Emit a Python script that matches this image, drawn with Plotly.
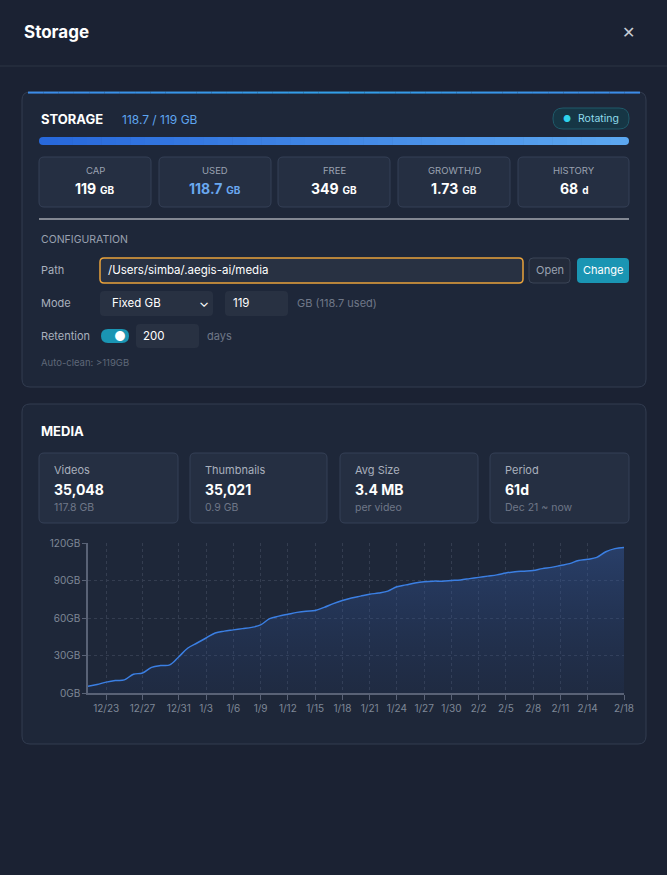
import plotly.graph_objects as go
import pandas as pd

W, H = 667, 875
start_date = "2024-12-21"
used_gb = [5.3, 6.8, 8.7, 10.0, 10.5, 15.0, 16.0, 20.5, 22.0, 22.5,
           29.0, 36.0, 40.0, 44.0, 48.0, 49.5, 50.5, 51.5, 52.5, 54.5,
           59.5, 61.5, 63.0, 64.5, 65.5, 66.0, 68.5, 71.5, 74.0, 76.0,
           77.5, 79.0, 80.0, 81.5, 85.0, 86.5, 88.0, 89.0, 89.5, 89.5,
           90.0, 90.5, 91.5, 92.5, 93.5, 94.5, 96.0, 97.0, 97.5, 98.0,
           99.5, 100.5, 102.0, 103.5, 106.0, 107.0, 108.5, 113.0, 115.5, 116.5]
dates = pd.date_range(start_date, periods=len(used_gb), freq="D")
tick_labels = ["12/23", "12/27", "12/31", "1/3", "1/6", "1/9", "1/12", "1/15", "1/18",
               "1/21", "1/24", "1/27", "1/30", "2/2", "2/5", "2/8", "2/11", "2/14", "2/18"]
tick_dates = [pd.Timestamp(("2024-" if l.startswith("12") else "2025-") + l.replace("/", "-")) for l in tick_labels]
y_ticks = [0, 30, 60, 90, 120]
y_labels = ["0GB", "30GB", "60GB", "90GB", "120GB"]

storage_stats = [("CAP", "119", "GB", "#ffffff"), ("USED", "118.7", "GB", "#6aa8f0"),
                 ("FREE", "349", "GB", "#ffffff"), ("GROWTH/D", "1.73", "GB", "#ffffff"),
                 ("HISTORY", "68", "d", "#ffffff")]
media_stats = [("Videos", "35,048", "117.8 GB"), ("Thumbnails", "35,021", "0.9 GB"),
               ("Avg Size", "3.4 MB", "per video"), ("Period", "61d", "Dec 21 ~ now")]

FONT = "Inter, Roboto, sans-serif"
shapes, ann = [], []

def px(x): return x / W
def py(y): return 1 - y / H

def rrect(x0, y0, x1, y1, r, fill, line=None, lw=1):
    p = (f"M {px(x0+r)},{py(y0)} L {px(x1-r)},{py(y0)} Q {px(x1)},{py(y0)} {px(x1)},{py(y0+r)} "
         f"L {px(x1)},{py(y1-r)} Q {px(x1)},{py(y1)} {px(x1-r)},{py(y1)} L {px(x0+r)},{py(y1)} "
         f"Q {px(x0)},{py(y1)} {px(x0)},{py(y1-r)} L {px(x0)},{py(y0+r)} Q {px(x0)},{py(y0)} {px(x0+r)},{py(y0)} Z")
    shapes.append(dict(type="path", path=p, xref="paper", yref="paper", fillcolor=fill,
                       line=dict(color=line or "rgba(0,0,0,0)", width=lw if line else 0), layer="below"))

def rect(x0, y0, x1, y1, fill):
    shapes.append(dict(type="rect", x0=px(x0), x1=px(x1), y0=py(y1), y1=py(y0),
                       xref="paper", yref="paper", fillcolor=fill, line=dict(width=0), layer="below"))

def text(x, y, s, size=12, color="#ffffff", anchor="left", bold=False):
    if bold: s = f"<b>{s}</b>"
    ann.append(dict(x=px(x), y=py(y), xref="paper", yref="paper", text=s, showarrow=False,
                    xanchor=anchor, yanchor="middle", font=dict(size=size, color=color, family=FONT)))

def line(x0, y0, x1, y1, color, w=1):
    shapes.append(dict(type="line", x0=px(x0), y0=py(y0), x1=px(x1), y1=py(y1), xref="paper", yref="paper",
                       line=dict(color=color, width=w), layer="below"))

def grad(t):
    return f"rgb({int(40+52*t)},{int(105+62*t)},{int(220+20*t)})"

rect(0, 0, W, H, "#1b2233")
text(22, 32, "Storage", 17, "#ffffff", bold=True)
text(628, 32, "✕", 16, "#c8ccd4", "center")
line(0, 66, W, 66, "#2c3445")

# storage panel
rrect(22, 92, 646, 387, 8, "#1e2739", "#323c50")
for i in range(40):
    t = abs(i - 19.5) / 19.5
    line(28 + i * 612 / 40, 92.6, 28 + (i + 1) * 612 / 40, 92.6,
         f"rgb({int(50+10*t)},{int(160-20*t)},{int(232)})", 2)
text(39, 119, "STORAGE", 13, "#ffffff", bold=True)
text(120, 119, "118.7 / 119 GB", 12, "#5ea6f0")
rrect(553, 108, 629, 129, 10, "#163645", "#1f5a6a")
text(567, 118.5, "●", 9, "#2fd3ec", "center")
text(576, 118.5, "Rotating", 10.5, "#8fdcec")
rrect(39, 137, 49, 145, 4, grad(0))
rrect(619, 137, 629, 145, 4, grad(1))
n = 40
for i in range(n):
    x0 = 43 + i * 582 / n
    rect(x0, 137, x0 + 582 / n + 0.6, 145, grad(i / (n - 1)))
cards = [(39, 151), (159, 271), (278, 390), (398, 510), (518, 629)]
for (x0, x1), (lab, val, unit, col) in zip(cards, storage_stats):
    rrect(x0, 157, x1, 207, 5, "#252f42", "#354056")
    cx = (x0 + x1) / 2
    text(cx, 171, lab, 9.5, "#9aa2b1", "center")
    text(cx, 189, f"<b>{val}</b> <span style='font-size:10px'><b>{unit}</b></span>", 14, col, "center")
line(39, 219, 629, 219, "#e6e8ec")
text(39, 240, "CONFIGURATION", 10.5, "#9aa2b1")
text(39, 270, "Path", 11, "#a9b0bd")
rrect(100, 258, 523, 283, 4, "#283142", "#e9a23b", 1.5)
text(106, 270, "/Users/simba/.aegis-ai/media", 11.5, "#ffffff")
rrect(529, 258, 570, 283, 4, "#232b3b", "#3a4456")
text(549.5, 270, "Open", 11, "#9aa2b1", "center")
rrect(577, 258, 629, 283, 4, "#1a95b3")
text(603, 270, "Change", 11, "#ffffff", "center")
text(39, 303, "Mode", 11, "#a9b0bd")
rrect(100, 291, 213, 316, 4, "#283142")
text(110, 303, "Fixed GB", 11.5, "#ffffff")
text(204, 302, "⌄", 13, "#ffffff", "center")
rrect(225, 291, 288, 316, 4, "#283142")
text(231, 303, "119", 11.5, "#ffffff")
text(295, 303, "GB (118.7 used)", 11, "#6f7788")
text(39, 336, "Retention", 11, "#a9b0bd")
rrect(101, 329, 129, 343, 7, "#1a95b3")
text(120, 336, "●", 13, "#ffffff", "center")
rrect(136, 324, 199, 348, 4, "#283142")
text(141, 336, "200", 11.5, "#ffffff")
text(205, 336, "days", 11, "#6f7788")
text(39, 363, "Auto-clean: >119GB", 9.5, "#5f6778")

# media panel
rrect(22, 404, 646, 744, 8, "#1e2739", "#323c50")
text(39, 431, "MEDIA", 13, "#ffffff", bold=True)
mcards = [(39, 178), (190, 327), (340, 478), (490, 629)]
for (x0, x1), (lab, val, sub) in zip(mcards, media_stats):
    rrect(x0, 453, x1, 523, 5, "#252f42", "#354056")
    text(x0 + 13, 470, lab, 11, "#a9b0bd")
    text(x0 + 13, 489, val, 14, "#ffffff", bold=True)
    text(x0 + 13, 507, sub, 10.5, "#6f7788")

fig = go.Figure()
fig.add_trace(go.Scatter(x=dates, y=used_gb, mode="lines", line=dict(color="#3b7fe3", width=1.5, shape="spline"),
                         fill="tozeroy",
                         fillgradient=dict(type="vertical", colorscale=[[0, "rgba(40,70,130,0.12)"], [1, "rgba(55,95,170,0.42)"]]),
                         hoverinfo="skip"))
fig.update_layout(
    width=W, height=H, margin=dict(l=0, r=0, t=0, b=0, autoexpand=False), paper_bgcolor="#1b2233",
    plot_bgcolor="rgba(0,0,0,0)",
    showlegend=False, shapes=shapes, annotations=ann,
    xaxis=dict(domain=[px(88), px(624)], range=[dates[0], dates[-1]], tickvals=tick_dates, ticktext=tick_labels,
               automargin=False,
               showgrid=True, gridcolor="#343d50", griddash="dot", gridwidth=1,
               showline=True, linecolor="#596276", linewidth=1.5, ticks="outside", tickcolor="#596276", ticklen=5,
               tickfont=dict(size=10, color="#7f8797", family=FONT), zeroline=False),
    yaxis=dict(domain=[py(693), py(543)], range=[0, 120], tickvals=y_ticks, ticktext=y_labels,
               automargin=False,
               showgrid=True, gridcolor="#343d50", griddash="dot",
               showline=True, linecolor="#596276", linewidth=1.5, ticks="outside", tickcolor="#596276", ticklen=4,
               tickfont=dict(size=10, color="#7f8797", family=FONT), zeroline=False),
)
fig.write_html("out.html", config={"displayModeBar": False},
               post_script=("document.body.style.margin='0';document.body.style.overflow='hidden';"
                            "document.body.style.background='#1b2233';"
                            "var gd=document.getElementById('{plot_id}');gd.style.position='fixed';"
                            "gd.style.left='0px';gd.style.top='0px';"))
